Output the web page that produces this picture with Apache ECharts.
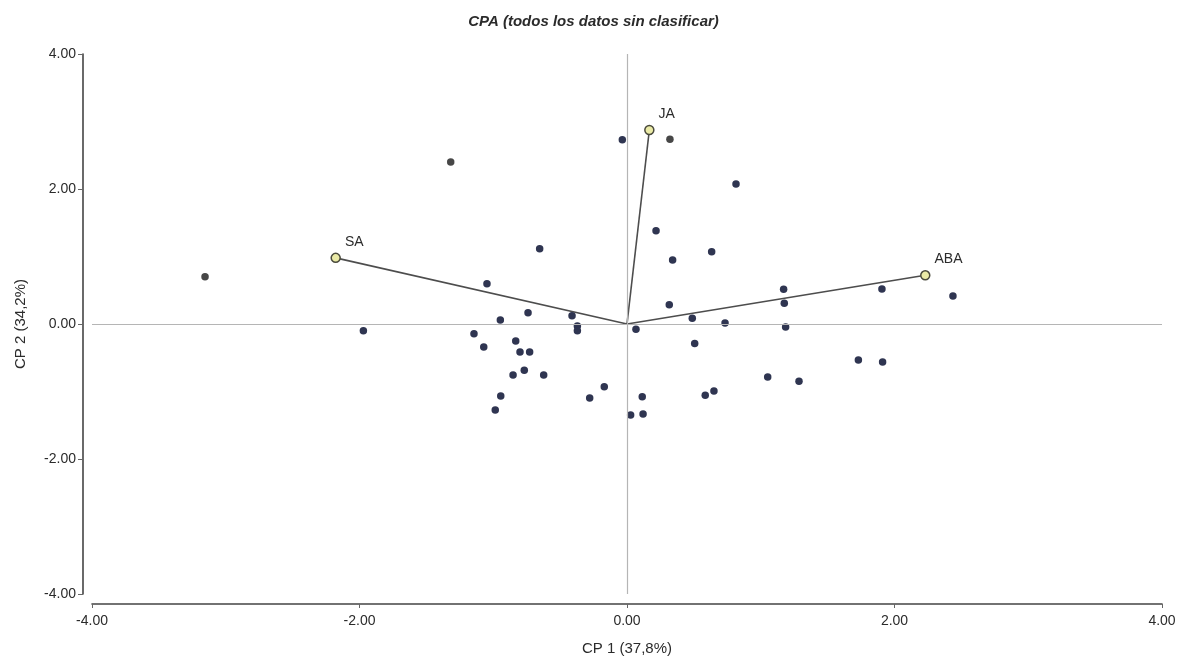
<!DOCTYPE html>
<html>
<head>
<meta charset="utf-8">
<script src="https://cdn.jsdelivr.net/npm/echarts@6/dist/echarts.min.js"></script>
<style>
html,body{margin:0;padding:0;background:#fff;}
#chart{width:1187px;height:661px;}
</style>
</head>
<body>
<div id="chart"></div>
<script>
const titleText = 'CPA (todos los datos sin clasificar)';
const xAxisName = 'CP 1 (37,8%)';
const yAxisName = 'CP 2 (34,2%)';
const axisMin = -4;
const axisMax = 4;
const axisStep = 2;

// case scores (navy points)
const pointsNavy = [
  [-1.971,-0.10],[-0.653,1.115],[-1.047,0.597],[-0.74,0.168],[-0.947,0.06],
  [-0.411,0.123],[-0.371,-0.03],[-0.371,-0.10],[-1.144,-0.143],[-1.071,-0.34],
  [-0.832,-0.252],[-0.80,-0.415],[-0.728,-0.415],[-0.852,-0.756],[-0.768,-0.686],
  [-0.623,-0.756],[-0.944,-1.067],[-0.985,-1.274],[-0.17,-0.929],[-0.279,-1.096],
  [-0.035,2.73],[0.815,2.074],[0.217,1.382],[0.633,1.071],[0.341,0.948],
  [2.437,0.415],[1.906,0.519],[1.171,0.514],[1.176,0.306],[0.316,0.286],
  [0.488,0.084],[0.733,0.015],[1.186,-0.044],[0.067,-0.079],[0.506,-0.29],
  [1.73,-0.533],[1.911,-0.563],[1.052,-0.785],[1.286,-0.849],[0.114,-1.077],
  [0.585,-1.057],[0.65,-0.993],[0.027,-1.348],[0.12,-1.333]
];
// case scores (grey points)
const pointsGray = [[-3.155,0.70],[-1.318,2.40],[0.321,2.736]];

// variable loadings (vectors)
const vectorNames = ['SA','JA','ABA'];
const vectorX = [-2.178, 0.167, 2.23];
const vectorY = [0.98, 2.874, 0.721];

const chart = echarts.init(document.getElementById('chart'));
const font = 'Liberation Sans, Arial, sans-serif';

const vectorSeries = vectorNames.map((n, i) => ({
  type: 'line',
  data: [[0, 0], [vectorX[i], vectorY[i]]],
  symbol: 'none',
  lineStyle: {color: '#4d4d4d', width: 1.6},
  silent: true,
  z: 3
}));

chart.setOption({
  animation: false,
  backgroundColor: '#ffffff',
  title: {
    text: titleText,
    left: 'center',
    top: 9,
    textStyle: {fontFamily: font, fontStyle: 'italic', fontWeight: 'bold', fontSize: 15, color: '#2b2b2b'}
  },
  grid: {left: 92, right: 25, top: 54, bottom: 67, containLabel: false},
  xAxis: {
    type: 'value', min: axisMin, max: axisMax, interval: axisStep,
    offset: 10,
    name: xAxisName, nameLocation: 'middle', nameGap: 37,
    nameTextStyle: {fontFamily: font, fontSize: 15, color: '#2b2b2b'},
    axisLine: {show: true, onZero: false, lineStyle: {color: '#444', width: 1.6}},
    axisTick: {show: true, length: 4, inside: false, lineStyle: {color: '#666'}},
    axisLabel: {fontFamily: font, fontSize: 14, color: '#2b2b2b', margin: 10,
      formatter: v => v.toFixed(2)},
    splitLine: {show: false}
  },
  yAxis: {
    type: 'value', min: axisMin, max: axisMax, interval: axisStep,
    offset: 9,
    name: yAxisName, nameLocation: 'middle', nameGap: 55,
    nameTextStyle: {fontFamily: font, fontSize: 15, color: '#2b2b2b'},
    axisLine: {show: true, onZero: false, lineStyle: {color: '#444', width: 1.6}},
    axisTick: {show: true, length: 5, lineStyle: {color: '#666'}},
    axisLabel: {fontFamily: font, fontSize: 14, color: '#2b2b2b', margin: 7,
      formatter: v => v.toFixed(2)},
    splitLine: {show: false}
  },
  series: [
    {
      type: 'scatter',
      data: [],
      silent: true,
      markLine: {
        silent: true, symbol: 'none', label: {show: false},
        lineStyle: {color: '#b5b5b5', width: 1.2, type: 'solid'},
        data: [{xAxis: 0}, {yAxis: 0}]
      },
      z: 1
    },
    ...vectorSeries,
    {
      type: 'scatter',
      data: pointsNavy,
      symbolSize: 7.5,
      itemStyle: {color: '#2f3551', opacity: 1},
      z: 4
    },
    {
      type: 'scatter',
      data: pointsGray,
      symbolSize: 7.5,
      itemStyle: {color: '#474747', opacity: 1},
      z: 4
    },
    {
      type: 'scatter',
      data: vectorNames.map((n, i) => ({value: [vectorX[i], vectorY[i]], name: n})),
      symbolSize: 9,
      itemStyle: {color: '#eaeaa6', borderColor: '#4a4a3c', borderWidth: 1.5, opacity: 1},
      label: {
        show: true, position: 'right', distance: 4, offset: [0, -16],
        formatter: p => p.name,
        fontFamily: font, fontSize: 14, color: '#2b2b2b'
      },
      z: 5
    }
  ]
});
</script>
</body>
</html>
